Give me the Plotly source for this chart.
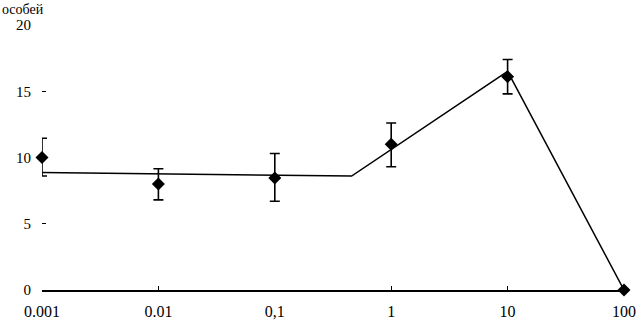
import plotly.graph_objects as go

categories = ["0.001", "0.01", "0,1", "1", "10", "100"]
means = [10.0, 8.0, 8.45, 11.0, 16.1, 0.0]
err_plus = [1.45, 1.15, 1.85, 1.6, 1.3, 0.0]
err_minus = [1.4, 1.2, 1.75, 1.7, 1.3, 0.0]
fit_x = [0, 2.66, 4, 5]
fit_y = [8.87, 8.6, 16.5, 0.0]
y_ticks = [0, 5, 10, 15, 20]
x_tick_marks = [1, 3, 4]
y_title = "особей"

FONT = "'Liberation Serif', 'Times New Roman', 'DejaVu Serif', serif"
idx = list(range(len(categories)))

fig = go.Figure()
fig.add_trace(go.Scatter(
    x=fit_x, y=fit_y, mode="lines",
    line=dict(color="black", width=1.5),
    cliponaxis=False, hoverinfo="skip", showlegend=False,
))
fig.add_trace(go.Scatter(
    x=idx, y=means, mode="markers",
    marker=dict(symbol="diamond", size=10, color="black"),
    error_y=dict(type="data", symmetric=False, array=err_plus, arrayminus=err_minus,
                 color="black", thickness=1.6, width=5),
    cliponaxis=False, showlegend=False,
))
# invisible trace to activate the tick-mark axis
fig.add_trace(go.Scatter(x=[0], y=[0], xaxis="x2", mode="markers",
                         marker=dict(opacity=0), hoverinfo="skip", showlegend=False))

fig.update_layout(
    width=636, height=324,
    margin=dict(l=42, r=12, t=25, b=34),
    paper_bgcolor="white", plot_bgcolor="white",
    font=dict(family=FONT, size=16, color="black"),
    xaxis=dict(
        range=[0, 5], tickvals=idx, ticktext=categories, ticks="",
        showline=True, linecolor="black", linewidth=1.5, automargin=False,
        showgrid=False, zeroline=False, ticklabelstandoff=6,
    ),
    xaxis2=dict(
        range=[0, 5], overlaying="x", anchor="y", side="bottom",
        tickvals=x_tick_marks, ticks="inside", ticklen=4, tickwidth=1.2,
        tickcolor="black", showticklabels=False, showgrid=False, automargin=False,
        zeroline=False, showline=False,
    ),
    yaxis=dict(
        range=[0, 20], tickvals=y_ticks, ticks="inside", ticklen=4,
        tickwidth=1.2, tickcolor="black", showline=False, showgrid=False,
        zeroline=False, ticklabelstandoff=10, automargin=False,
        tickfont=dict(size=15),
    ),
    annotations=[dict(
        text=y_title, xref="paper", yref="paper", x=-42/582, y=1 + 25/265,
        xanchor="left", yanchor="top", showarrow=False,
        font=dict(family=FONT, size=14, color="black"),
    )],
)

fig.write_html("out.html", config={"displayModeBar": False},
               post_script="document.body.style.margin='0';")
